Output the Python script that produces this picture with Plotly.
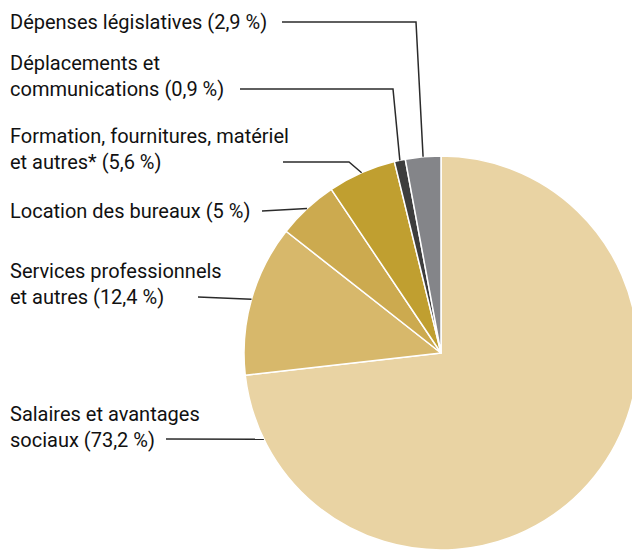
import math
import plotly.graph_objects as go

# ---- data ----
categories = [
    "Salaires et avantages<br>sociaux (73,2 %)",
    "Services professionnels<br>et autres (12,4 %)",
    "Location des bureaux (5 %)",
    "Formation, fournitures, matériel<br>et autres* (5,6 %)",
    "Déplacements et<br>communications (0,9 %)",
    "Dépenses législatives (2,9 %)",
]
values = [73.2, 12.4, 5.0, 5.6, 0.9, 2.9]
colors = ["#E9D3A3", "#D7B86B", "#CCAA4F", "#C09F30", "#3D3D3D", "#848589"]

# ---- layout constants (pixels) ----
W, H = 640, 552
CX, CY, R = 441, 353, 197
FONT = "Roboto, Liberation Sans, sans-serif"
FS = 20
# label block centre y, line start x, bend x (None = straight), anchor fraction within slice
label_y = [427, 284, 211, 149, 76, 22]
line_x0 = [166, 198, 262, 283, 240, 282]
line_bend = [None, None, None, 349, 393, 416]
anchor_frac = [0.926, 0.5, 0.5, 0.5, 0.5, 0.5]
line_y = [439, 297, 211, 162, 89, 22]


def px(x):
    return x / W


def py(y):
    return 1 - y / H


fig = go.Figure()
fig.add_trace(go.Pie(
    values=values,
    labels=[c.replace("<br>", " ") for c in categories],
    sort=False,
    direction="clockwise",
    rotation=0,
    textinfo="none",
    hoverinfo="skip",
    showlegend=False,
    marker=dict(colors=colors, line=dict(color="white", width=1.5)),
    domain=dict(x=[px(CX - R), px(CX + R)], y=[py(CY + R), py(CY - R)]),
))

total = sum(values)
cum = 0.0
shapes = []
annotations = []
for i, v in enumerate(values):
    frac = (cum + v * anchor_frac[i]) / total
    cum += v
    ang = 2 * math.pi * frac  # clockwise from 12 o'clock
    ex = CX + R * math.sin(ang)
    ey = CY - R * math.cos(ang)
    ly = line_y[i]
    if line_bend[i] is None:
        path = f"M {px(line_x0[i])} {py(ly)} L {px(ex)} {py(ey)}"
    else:
        path = (f"M {px(line_x0[i])} {py(ly)} L {px(line_bend[i])} {py(ly)} "
                f"L {px(ex)} {py(ey)}")
    shapes.append(dict(type="path", xref="paper", yref="paper", path=path,
                       line=dict(color="#2b2b2b", width=1.5)))
    annotations.append(dict(
        text=categories[i], x=px(8), y=py(label_y[i]), xref="paper", yref="paper",
        xanchor="left", yanchor="middle", align="left", showarrow=False,
        font=dict(family=FONT, size=FS, color="#111111"),
    ))

fig.update_layout(
    width=W, height=H, autosize=False,
    margin=dict(l=0, r=0, t=0, b=0),
    paper_bgcolor="white", plot_bgcolor="white",
    shapes=shapes, annotations=annotations,
)

fig.write_html("out.html",
               post_script="document.body.style.overflow='hidden';document.body.style.margin='0';")
